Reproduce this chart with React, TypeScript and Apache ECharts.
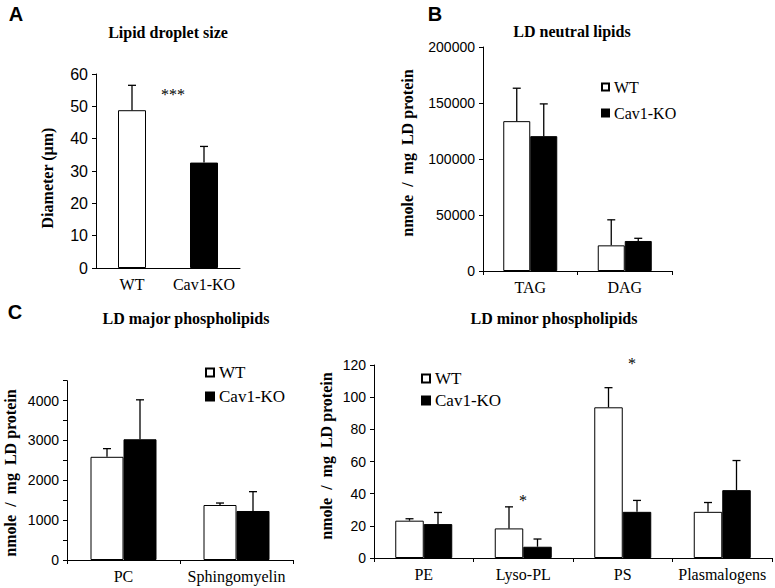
import React, { useEffect, useRef } from "react";
import * as echarts from "echarts";

// Panel A: lipid droplet size
const sizeCategories = ["WT", "Cav1-KO"];
const sizeMeans = [48.8, 32.6];
const sizeErrors = [7.7, 5.0];
const sizeTicks = { min: 0, max: 60, interval: 10 };

// Panel B: LD neutral lipids
const neutralCategories = ["TAG", "DAG"];
const neutralWT = [133800, 22900];
const neutralWTErr = [29400, 22800];
const neutralKO = [120400, 26800];
const neutralKOErr = [28800, 2400];
const neutralTicks = { min: 0, max: 200000, interval: 50000 };

// Panel C left: LD major phospholipids
const majorCategories = ["PC", "Sphingomyelin"];
const majorWT = [2590, 1380];
const majorWTErr = [205, 50];
const majorKO = [3030, 1230];
const majorKOErr = [990, 485];
const majorTicks = { min: 0, max: 4500, interval: 500, labelEvery: 1000 };

// Panel C right: LD minor phospholipids
const minorCategories = ["PE", "Lyso-PL", "PS", "Plasmalogens"];
const minorWT = [23.2, 18.4, 93.7, 28.7];
const minorWTErr = [1.2, 13.4, 12.2, 5.8];
const minorKO = [21.1, 7.0, 28.7, 42.2];
const minorKOErr = [7.2, 4.8, 7.1, 18.4];
const minorTicks = { min: 0, max: 120, interval: 20 };

const seriesNames = ["WT", "Cav1-KO"];
const yLabel = "nmole  /  mg  LD protein";
const sizeLabel = "Diameter (µm)";

const SERIF = "Liberation Serif";
const SANS = "Liberation Sans";

const whiteStyle = { color: "#ffffff", borderColor: "#000", borderWidth: 1 };
const blackStyle = { color: "#000000", borderColor: "#000", borderWidth: 1 };

function errorSeries(axis: number, means: number[], errs: number[], offset: number, cap: number) {
  return {
    type: "custom",
    xAxisIndex: axis,
    yAxisIndex: axis,
    z: 5,
    silent: true,
    encode: { x: 0, y: 1 },
    data: means.map((m, i) => [i, m, errs[i]]),
    renderItem: (params: any, api: any) => {
      const c = api.value(0);
      const m = api.value(1);
      const e = api.value(2);
      const b = api.coord([c, m]);
      const t = api.coord([c, m + e]);
      const x = b[0] + offset;
      const st = { stroke: "#000", lineWidth: 1.3 };
      return {
        type: "group",
        children: [
          { type: "line", shape: { x1: x, y1: b[1], x2: x, y2: t[1] }, style: st },
          { type: "line", shape: { x1: x - cap, y1: t[1], x2: x + cap, y2: t[1] }, style: st },
        ],
      };
    },
  };
}

function xAxisCfg(idx: number, cats: string[], showTick: boolean) {
  return {
    type: "category",
    gridIndex: idx,
    data: cats,
    boundaryGap: true,
    axisLine: { lineStyle: { color: "#000", width: 1 } },
    axisTick: { show: showTick, length: 4, lineStyle: { color: "#000" } },
    axisLabel: { interval: 0, color: "#000", fontFamily: SERIF, fontSize: 16, margin: 8 },
    splitLine: { show: false },
  };
}

function yAxisCfg(idx: number, ticks: any, fs: number) {
  return {
    type: "value",
    gridIndex: idx,
    min: ticks.min,
    max: ticks.max,
    interval: ticks.interval,
    axisLine: { show: true, lineStyle: { color: "#000", width: 1 } },
    axisTick: { show: true, length: 4, lineStyle: { color: "#000" } },
    axisLabel: {
      color: "#000",
      fontFamily: SANS,
      fontSize: fs,
      margin: 8,
      formatter: (v: number) =>
        ticks.labelEvery ? (v % ticks.labelEvery === 0 ? String(v) : "") : String(v),
    },
    splitLine: { show: false },
  };
}

function legendCfg(left: number, top: number, size: number, gap: number, fs: number) {
  return {
    orient: "vertical",
    left,
    top,
    padding: 0,
    icon: "rect",
    itemWidth: size,
    itemHeight: size,
    itemGap: gap,
    selectedMode: false,
    data: seriesNames,
    textStyle: { color: "#000", fontFamily: SERIF, fontSize: fs },
  };
}

function text(x: number, y: number, t: string, font: any, rotation = 0) {
  return {
    type: "text",
    x,
    y,
    rotation,
    style: { text: t, align: "center", verticalAlign: "middle", ...font, fill: "#000" },
  };
}

export default function App() {
  const ref = useRef<HTMLDivElement>(null);
  useEffect(() => {
    if (!ref.current) return;
    const chart = echarts.init(ref.current, null, { renderer: "svg" });
    const bwB = 27;
    const bwCL = 33;
    const bwCR = 28.5;
    const titleFont = { fontFamily: SERIF, fontWeight: "bold", fontSize: 16 };
    const nameFont = { fontFamily: SERIF, fontWeight: "bold", fontSize: 16 };
    const letterFont = { fontFamily: SANS, fontWeight: "bold", fontSize: 20 };
    const starFont = { fontFamily: SERIF, fontSize: 16 };
    const up = Math.PI / 2;
    const option: any = {
      animation: false,
      backgroundColor: "#fff",
      grid: [
        { left: 96, top: 74, width: 144, height: 194 },
        { left: 483, top: 47, width: 189, height: 224 },
        { left: 67, top: 380.7, width: 226, height: 179.3 },
        { left: 374, top: 365, width: 398, height: 193 },
      ],
      xAxis: [
        xAxisCfg(0, sizeCategories, false),
        xAxisCfg(1, neutralCategories, true),
        xAxisCfg(2, majorCategories, true),
        xAxisCfg(3, minorCategories, true),
      ],
      yAxis: [
        yAxisCfg(0, sizeTicks, 16),
        yAxisCfg(1, neutralTicks, 14),
        yAxisCfg(2, majorTicks, 14),
        yAxisCfg(3, minorTicks, 14),
      ],
      legend: [
        legendCfg(601, 79, 7, 10, 16),
        legendCfg(205, 364, 8, 7, 17),
        legendCfg(421, 370, 8, 5, 17),
      ],
      series: [
        {
          type: "bar",
          xAxisIndex: 0,
          yAxisIndex: 0,
          barWidth: 28,
          data: sizeMeans.map((v, i) => ({ value: v, itemStyle: i === 0 ? whiteStyle : blackStyle })),
        },
        errorSeries(0, sizeMeans, sizeErrors, 0, 4),
        { name: seriesNames[0], type: "bar", xAxisIndex: 1, yAxisIndex: 1, barWidth: bwB, barGap: "0%", itemStyle: whiteStyle, data: neutralWT },
        { name: seriesNames[1], type: "bar", xAxisIndex: 1, yAxisIndex: 1, barWidth: bwB, barGap: "0%", itemStyle: blackStyle, data: neutralKO },
        errorSeries(1, neutralWT, neutralWTErr, -bwB / 2, 4),
        errorSeries(1, neutralKO, neutralKOErr, bwB / 2, 4),
        { name: seriesNames[0], type: "bar", xAxisIndex: 2, yAxisIndex: 2, barWidth: bwCL, barGap: "0%", itemStyle: whiteStyle, data: majorWT },
        { name: seriesNames[1], type: "bar", xAxisIndex: 2, yAxisIndex: 2, barWidth: bwCL, barGap: "0%", itemStyle: blackStyle, data: majorKO },
        errorSeries(2, majorWT, majorWTErr, -bwCL / 2, 4),
        errorSeries(2, majorKO, majorKOErr, bwCL / 2, 4),
        { name: seriesNames[0], type: "bar", xAxisIndex: 3, yAxisIndex: 3, barWidth: bwCR, barGap: "0%", itemStyle: whiteStyle, data: minorWT },
        { name: seriesNames[1], type: "bar", xAxisIndex: 3, yAxisIndex: 3, barWidth: bwCR, barGap: "0%", itemStyle: blackStyle, data: minorKO },
        errorSeries(3, minorWT, minorWTErr, -bwCR / 2, 4),
        errorSeries(3, minorKO, minorKOErr, bwCR / 2, 4),
      ],
      graphic: [
        text(16, 14, "A", letterFont),
        text(435, 14, "B", letterFont),
        text(15, 312, "C", letterFont),
        text(168, 32, "Lipid droplet size", titleFont),
        text(572, 31, "LD neutral lipids", titleFont),
        text(186, 318, "LD major phospholipids", titleFont),
        text(554, 318, "LD minor phospholipids", titleFont),
        text(47, 178, sizeLabel, nameFont, up),
        text(407, 153, yLabel, nameFont, up),
        text(10, 473, yLabel, nameFont, up),
        text(326, 456, yLabel, nameFont, up),
        text(173, 94, "***", starFont),
        text(523, 500, "*", starFont),
        text(632, 363, "*", starFont),
      ],
    };
    chart.setOption(option);
    return () => chart.dispose();
  }, []);
  return (
    <div
      ref={ref}
      style={{ position: "absolute", left: 0, top: 0, width: 775, height: 588, background: "#fff" }}
    />
  );
}
